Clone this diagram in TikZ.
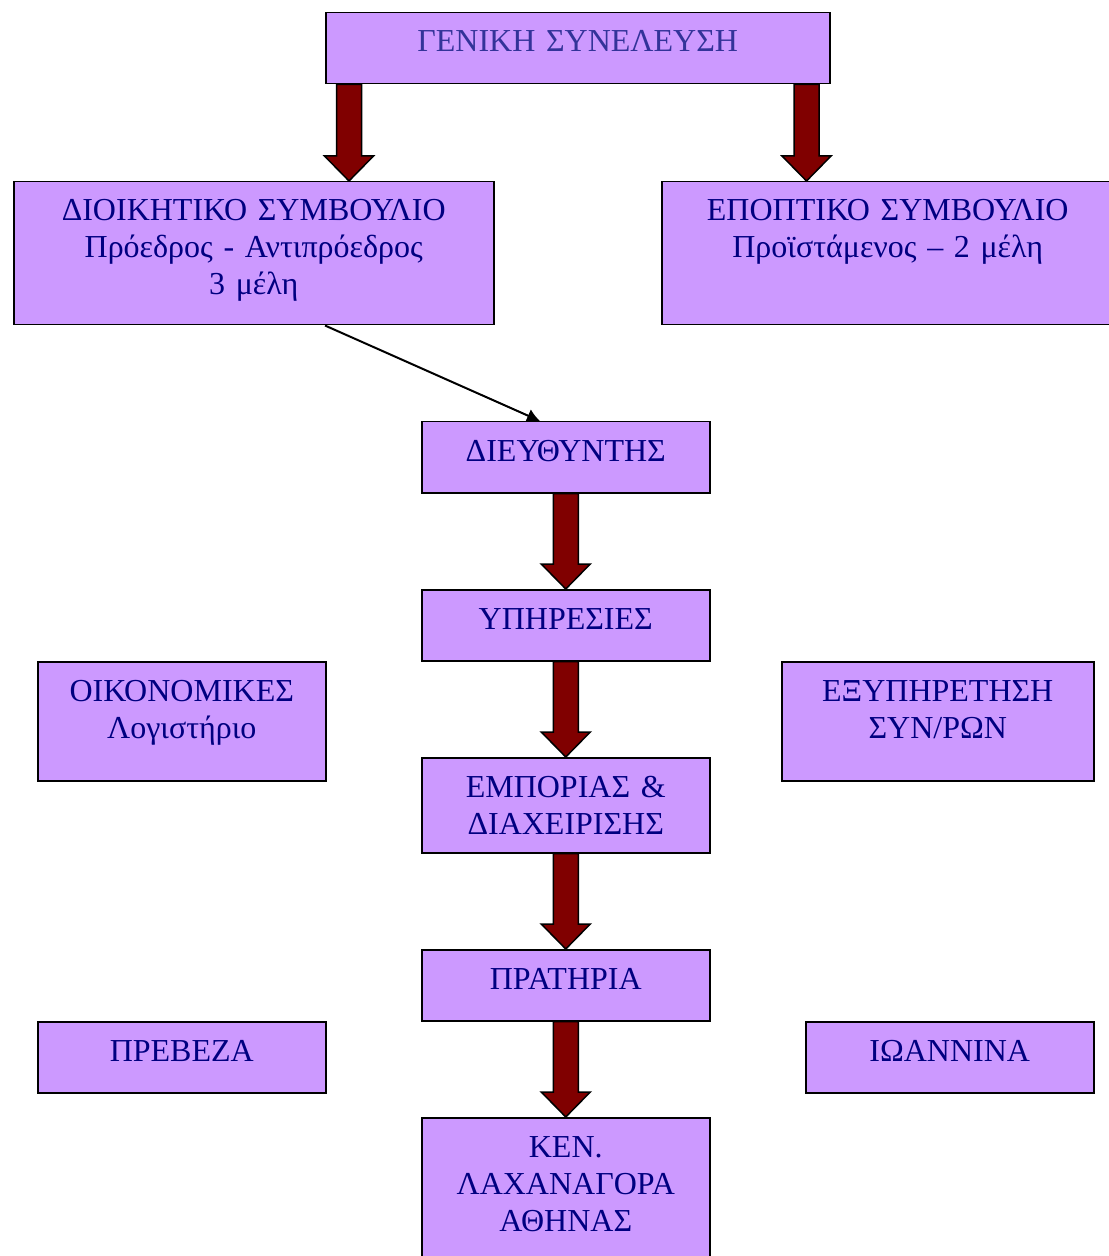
\documentclass[tikz,border=0pt]{standalone}
\usepackage{fontspec}
\setmainfont{Liberation Serif}
\usepackage{tikz}
\usetikzlibrary{positioning,calc,arrows.meta}

\definecolor{boxfill}{HTML}{CC99FF}
\definecolor{boxtext}{HTML}{000080}
\definecolor{toptext}{HTML}{333399}
\definecolor{arrowfill}{HTML}{800000}

\tikzset{
  box/.style={draw, fill=boxfill, line width=0.75pt, inner sep=0pt,
              minimum width=144pt, minimum height=35.5pt},
  txt/.style={text=boxtext, text width=230pt, align=center, anchor=base,
              inner sep=0pt, font=\fontsize{16}{18.5}\selectfont},
  bigarrow/.style={draw, fill=arrowfill, line width=0.75pt, line join=miter}
}

% thick block arrow from (#1) down to the tip (#2)
\newcommand{\bigarrow}[2]{%
  \draw[bigarrow] ($(#1)+(-12.5,0)$) -- ($(#2)+(-12.5,-25)$)
    -- ($(#2)+(-24.5,-25)$) -- (#2) -- ($(#2)+(24.5,-25)$)
    -- ($(#2)+(12.5,-25)$) -- ($(#1)+(12.5,0)$) -- cycle;}

\begin{document}
\begin{tikzpicture}[x=0.5pt,y=-0.5pt,node distance=47.75pt]
  \useasboundingbox (0,0) rectangle (1108,1256);

  \node[box, anchor=north west, minimum width=252pt] (gs)   at (325,12)   {};
  \node[box, anchor=north west, minimum width=240pt, minimum height=71.5pt] (ds) at (13,181) {};
  \node[box, anchor=north west, minimum width=226pt, minimum height=71.5pt] (es) at (661,181) {};
  \node[box, anchor=north west] (dir)  at (421,421) {};
  \node[box] (yp)   [below = of dir] {};
  \node[box, minimum height=47.5pt] (emp)  [below = of yp] {};
  \node[box] (prat) [below = of emp] {};
  \node[box, minimum height=75pt] (ken)  [below = of prat] {};
  \node[box, anchor=north west, minimum height=59.5pt] (oik) at (37,661) {};
  \node[box, anchor=north west, minimum width=156pt, minimum height=59.5pt] (exy) at (781,661) {};
  \node[box, anchor=north west] (prev) at (37,1021) {};
  \node[box, anchor=north west] (ioa)  at (805,1021) {};

  % texts, first baseline 20pt under the top edge
  \node[txt, text=toptext] (gs-t) at ([yshift=-20pt]gs.north) {ΓΕΝΙΚΗ ΣΥΝΕΛΕΥΣΗ};
  \node[txt] (ds-t)   at ([yshift=-20pt]ds.north)   {ΔΙΟΙΚΗΤΙΚΟ ΣΥΜΒΟΥΛΙΟ\\Πρόεδρος - Αντιπρόεδρος\\3 μέλη};
  \node[txt] (es-t)   at ([yshift=-20pt]es.north)   {ΕΠΟΠΤΙΚΟ ΣΥΜΒΟΥΛΙΟ\\Προϊστάμενος – 2 μέλη};
  \node[txt] (dir-t)  at ([yshift=-20pt]dir.north)  {ΔΙΕΥΘΥΝΤΗΣ};
  \node[txt] (yp-t)   at ([yshift=-20pt]yp.north)   {ΥΠΗΡΕΣΙΕΣ};
  \node[txt] (emp-t)  at ([yshift=-20pt]emp.north)  {ΕΜΠΟΡΙΑΣ \&\\ΔΙΑΧΕΙΡΙΣΗΣ};
  \node[txt] (prat-t) at ([yshift=-20pt]prat.north) {ΠΡΑΤΗΡΙΑ};
  \node[txt] (ken-t)  at ([yshift=-20pt]ken.north)  {ΚΕΝ.\\ΛΑΧΑΝΑΓΟΡΑ\\ΑΘΗΝΑΣ};
  \node[txt] (oik-t)  at ([yshift=-20pt]oik.north)  {ΟΙΚΟΝΟΜΙΚΕΣ\\Λογιστήριο};
  \node[txt] (exy-t)  at ([yshift=-20pt]exy.north)  {ΕΞΥΠΗΡΕΤΗΣΗ\\ΣΥΝ/ΡΩΝ};
  \node[txt] (prev-t) at ([yshift=-20pt]prev.north) {ΠΡΕΒΕΖΑ};
  \node[txt] (ioa-t)  at ([yshift=-20pt]ioa.north)  {ΙΩΑΝΝΙΝΑ};

  \coordinate (gsl)   at ([xshift=12pt]gs.south west);
  \coordinate (gsr)   at ([xshift=-12pt]gs.south east);
  \coordinate (dsout) at ([xshift=156pt]ds.south west);
  \coordinate (dirin) at ([xshift=59.5pt]dir.north west);

  \bigarrow{gsl}{gsl |- ds.north}
  \bigarrow{gsr}{gsr |- es.north}
  \bigarrow{dir.south}{yp.north}
  \bigarrow{yp.south}{emp.north}
  \bigarrow{emp.south}{prat.north}
  \bigarrow{prat.south}{ken.north}

  \draw[-{Latex[length=6.5pt,width=7pt]}, line width=1pt] (dsout) -- (dirin);
\end{tikzpicture}
\end{document}
